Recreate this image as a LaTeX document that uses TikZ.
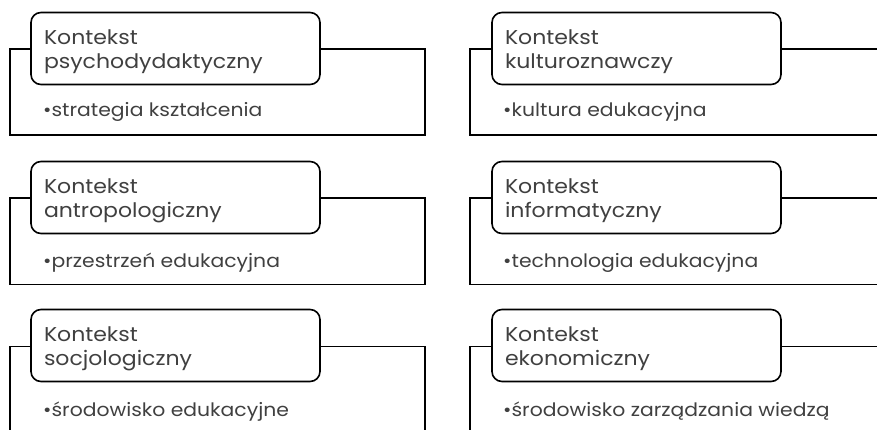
\documentclass[tikz,border=0pt]{standalone}
\usepackage{fontspec}
\setmainfont[FakeStretch=1.1]{Poppins}
\definecolor{txt}{HTML}{404040}
\newcommand\ttlines[2]{\rule{0pt}{21pt}#1\\#2}
\tikzset{
  outerbox/.style={draw=black, line width=1.6pt, rectangle, minimum width=#1, minimum height=86pt, anchor=north west, inner sep=0pt},
  titlebox/.style={draw=black, line width=1.6pt, rounded corners=10pt, fill=white, minimum width=289pt, minimum height=72pt, text width=263pt, inner xsep=13pt, inner ysep=0pt, align=left, text=txt, font={\fontsize{20}{24}\selectfont}},
  itemtext/.style={anchor=base west, inner sep=0pt, text=txt, font={\fontsize{18.5}{20}\selectfont}},
}
\begin{document}
\begin{tikzpicture}[x=1pt, y=-1pt]
\useasboundingbox (0,0) rectangle (877,430);
\clip (0,0) rectangle (877,430);
% left column
\node[outerbox=415pt] (o1) at (9,48.5) {};
\node[titlebox] (t1) at (175.5,48.5) {\ttlines{Kontekst}{psychodydaktyczny}};
\node[itemtext] (b1) at (43,116.5) {•strategia kształcenia};
\node[outerbox=415pt] (o2) at (9,197.5) {};
\node[titlebox] (t2) at (175.5,197.5) {\ttlines{Kontekst}{antropologiczny}};
\node[itemtext] (b2) at (43,267.5) {•przestrzeń edukacyjna};
\node[outerbox=415pt] (o3) at (9,345.5) {};
\node[titlebox] (t3) at (175.5,345.5) {\ttlines{Kontekst}{socjologiczny}};
\node[itemtext] (b3) at (43,416.5) {•środowisko edukacyjne};
% right column
\node[outerbox=440pt] (o4) at (469,48.5) {};
\node[titlebox] (t4) at (636.5,48.5) {\ttlines{Kontekst}{kulturoznawczy}};
\node[itemtext] (b4) at (503,116.5) {•kultura edukacyjna};
\node[outerbox=440pt] (o5) at (469,197.5) {};
\node[titlebox] (t5) at (636.5,197.5) {\ttlines{Kontekst}{informatyczny}};
\node[itemtext] (b5) at (503,267.5) {•technologia edukacyjna};
\node[outerbox=440pt] (o6) at (469,345.5) {};
\node[titlebox] (t6) at (636.5,345.5) {\ttlines{Kontekst}{ekonomiczny}};
\node[itemtext] (b6) at (503,416.5) {•środowisko zarządzania wiedzą};
\end{tikzpicture}
\end{document}
